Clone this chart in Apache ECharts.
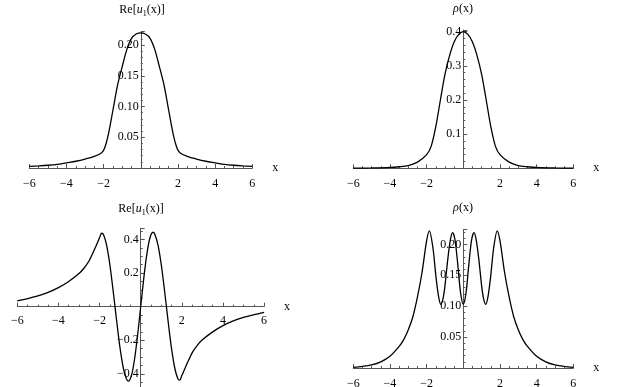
<!DOCTYPE html>
<html>
<head>
<meta charset="utf-8">
<script src="https://cdn.jsdelivr.net/npm/echarts@6/dist/echarts.min.js"></script>
<style>
  html, body { margin: 0; padding: 0; background: #fff; }
  #main { width: 625px; height: 387px; }
</style>
</head>
<body>
<div id="main"></div>
<script>
'use strict';
// top-left: Re[u1(x)], single bump
let x1 = [-6, -5.5, -5, -4.5, -4, -3.5, -3, -2.5, -2.1, -1.95, -1.75, -1.5, -1.25, -1, -0.75, -0.5, -0.25, 0,
          0.25, 0.5, 0.75, 1, 1.25, 1.5, 1.75, 1.95, 2.1, 2.5, 3, 3.5, 4, 4.5, 5, 5.5, 6];
let y1 = [0.0027, 0.0035, 0.0045, 0.006, 0.0085, 0.011, 0.0145, 0.019, 0.025, 0.032, 0.054, 0.094, 0.135, 0.165, 0.193, 0.211, 0.218, 0.22,
          0.218, 0.211, 0.193, 0.165, 0.135, 0.094, 0.054, 0.032, 0.025, 0.019, 0.0145, 0.011, 0.0085, 0.006, 0.0045, 0.0035, 0.0027];

// top-right: rho(x)
let x2 = [-6, -5, -4, -3.5, -3, -2.5, -2, -1.75, -1.5, -1.25, -1, -0.75, -0.5, -0.25, 0,
          0.25, 0.5, 0.75, 1, 1.25, 1.5, 1.75, 2, 2.5, 3, 3.5, 4, 5, 6];
let y2 = [0.0004, 0.001, 0.0025, 0.0045, 0.008, 0.018, 0.04, 0.065, 0.122, 0.2, 0.275, 0.33, 0.37, 0.392, 0.4,
          0.392, 0.37, 0.33, 0.275, 0.2, 0.122, 0.065, 0.04, 0.018, 0.008, 0.0045, 0.0025, 0.001, 0.0004];

// bottom-left: Re[u1(x)], oscillating
let x3 = [-6, -5.5, -5, -4.5, -4, -3.5, -3, -2.75, -2.5, -2.25, -2, -1.9, -1.8, -1.65, -1.5, -1.375, -1.25, -1.125, -1, -0.85, -0.7, -0.6, -0.45, -0.3, -0.15, 0,
          0.15, 0.3, 0.45, 0.6, 0.7, 0.85, 1, 1.125, 1.25, 1.375, 1.5, 1.65, 1.8, 1.9, 2, 2.25, 2.5, 2.75, 3, 3.5, 4, 4.5, 5, 5.5, 6];
let y3 = [0.034, 0.048, 0.064, 0.085, 0.113, 0.15, 0.197, 0.23, 0.275, 0.34, 0.41, 0.437, 0.427, 0.362, 0.25, 0.13, 0, -0.13, -0.25, -0.362, -0.427, -0.443, -0.41, -0.313, -0.17, 0,
          0.17, 0.313, 0.41, 0.443, 0.427, 0.362, 0.25, 0.13, 0, -0.13, -0.25, -0.362, -0.427, -0.437, -0.41, -0.34, -0.275, -0.23, -0.197, -0.15, -0.113, -0.085, -0.064, -0.048, -0.034];

// bottom-right: rho(x), four peaks
let x4 = [-6, -5.5, -5, -4.5, -4, -3.5, -3.25, -3, -2.75, -2.5, -2.25, -2, -1.85, -1.65, -1.5, -1.35, -1.22, -1.1, -1, -0.85, -0.7, -0.58, -0.45, -0.3, -0.15, 0,
          0.15, 0.3, 0.45, 0.58, 0.7, 0.85, 1, 1.1, 1.22, 1.35, 1.5, 1.65, 1.85, 2, 2.25, 2.5, 2.75, 3, 3.25, 3.5, 4, 4.5, 5, 5.5, 6];
let y4 = [0.001, 0.0025, 0.005, 0.01, 0.019, 0.035, 0.046, 0.062, 0.083, 0.115, 0.155, 0.206, 0.222, 0.193, 0.15, 0.116, 0.103, 0.113, 0.133, 0.175, 0.208, 0.219, 0.207, 0.167, 0.122, 0.103,
          0.122, 0.167, 0.207, 0.219, 0.208, 0.175, 0.133, 0.113, 0.103, 0.116, 0.15, 0.193, 0.222, 0.206, 0.155, 0.115, 0.083, 0.062, 0.046, 0.035, 0.019, 0.01, 0.005, 0.0025, 0.001];

let xTicks = [-6, -4, -2, 2, 4, 6];

function zip(xs, ys) {
    return xs.map(function (v, i) { return [v, ys[i]]; });
}

let font = 'Liberation Serif';
let axisColor = '#555';

function minus(s) {
    return s.replace('-', '\u2212');
}

// axes are drawn through the origin by shifting them with offset (labels included)
function makeX(idx, offset, labelMargin) {
    return {
        gridIndex: idx,
        type: 'value',
        min: -6,
        max: 6,
        interval: 2,
        offset: offset,
        name: 'x',
        nameLocation: 'end',
        nameGap: 20,
        nameTextStyle: { fontFamily: font, fontSize: 12, color: '#000', padding: [6, 0, 0, 0] },
        axisLine: { show: true, onZero: false, lineStyle: { color: axisColor, width: 1 } },
        axisTick: { show: true, inside: true, length: 4, lineStyle: { color: axisColor } },
        minorTick: { show: true, splitNumber: 4, length: 2, lineStyle: { color: axisColor } },
        splitLine: { show: false },
        axisLabel: {
            margin: labelMargin,
            fontFamily: font,
            fontSize: 12,
            color: '#000',
            formatter: function (v) { return xTicks.indexOf(v) < 0 ? '' : minus(String(v)); }
        }
    };
}

function makeY(idx, offset, min, max, step, digits, split) {
    return {
        gridIndex: idx,
        type: 'value',
        min: min,
        max: max,
        interval: step,
        offset: offset,
        axisLine: { show: true, onZero: false, lineStyle: { color: axisColor, width: 1 } },
        axisTick: { show: true, inside: true, length: 4, lineStyle: { color: axisColor } },
        minorTick: { show: true, splitNumber: split, length: 2, lineStyle: { color: axisColor } },
        splitLine: { show: false },
        axisLabel: {
            margin: 2,
            showMaxLabel: false,
            fontFamily: font,
            fontSize: 12,
            color: '#000',
            formatter: function (v) {
                if (Math.abs(v) < 1e-9) return '';
                return minus(v.toFixed(digits));
            }
        }
    };
}

function curve(idx, data) {
    return {
        type: 'line',
        xAxisIndex: idx,
        yAxisIndex: idx,
        data: data,
        showSymbol: false,
        smooth: 0.3,
        lineStyle: { color: '#000', width: 1.3 },
        silent: true,
        animation: false
    };
}

let rich = {
    n: { fontFamily: font, fontSize: 12, fill: '#000' },
    i: { fontFamily: font, fontSize: 12, fontStyle: 'italic', fill: '#000' },
    s: { fontFamily: font, fontSize: 8, fill: '#000', padding: [7, 0, 0, 0] }
};

function titleText(x, y, text) {
    return {
        type: 'text',
        x: x,
        y: y,
        style: {
            text: text,
            align: 'center',
            verticalAlign: 'middle',
            fontFamily: font,
            fontSize: 12,
            fill: '#000',
            rich: rich
        }
    };
}

let myChart = echarts.init(document.getElementById('main'), null, { renderer: 'canvas' });

let option = {
    animation: false,
    backgroundColor: '#fff',
    grid: [
        { left: 29.3, top: 31.6, width: 223, height: 136.4, outerBoundsMode: 'none' },
        { left: 353.3, top: 30, width: 220, height: 138.3, outerBoundsMode: 'none' },
        { left: 17.3, top: 228.2, width: 246.8, height: 179.3, outerBoundsMode: 'none' },
        { left: 353.3, top: 229.6, width: 220, height: 138.4, outerBoundsMode: 'none' }
    ],
    xAxis: [makeX(0, 0, 10), makeX(1, 0, 10), makeX(2, -100.8, 8), makeX(3, 0, 10)],
    yAxis: [
        makeY(0, -111.5, 0, 0.222, 0.05, 2, 5),
        makeY(1, -110, 0, 0.405, 0.1, 1, 5),
        makeY(2, -123.4, -0.6, 0.467, 0.2, 1, 4),
        makeY(3, -110, 0, 0.224, 0.05, 2, 5)
    ],
    series: [
        curve(0, zip(x1, y1)),
        curve(1, zip(x2, y2)),
        curve(2, zip(x3, y3)),
        curve(3, zip(x4, y4))
    ],
    graphic: [
        titleText(142, 10, '{n|Re[}{i|u}{s|1}{n|(x)]}'),
        titleText(463, 9, '{i|\u03C1}{n|(x)}'),
        titleText(141, 209, '{n|Re[}{i|u}{s|1}{n|(x)]}'),
        titleText(463, 208, '{i|\u03C1}{n|(x)}')
    ]
};

if (option && typeof option === 'object') {
    myChart.setOption(option, true);
}
</script>
</body>
</html>
